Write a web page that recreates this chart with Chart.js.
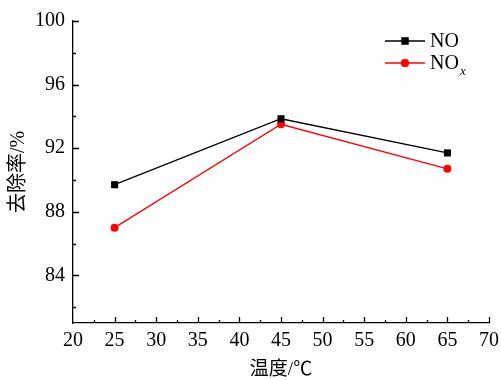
<!DOCTYPE html>
<html>
<head>
<meta charset="utf-8">
<script src="https://cdn.jsdelivr.net/npm/chart.js@4.4.1/dist/chart.umd.min.js"></script>
<style>
  html, body { margin: 0; padding: 0; background: #fff; }
  #wrap { width: 501px; height: 380px; }
</style>
</head>
<body>
<div id="wrap"><canvas id="chart"></canvas></div>
<script>
// data
const temps = [25, 45, 65];
const noRemoval = [89.7, 93.85, 91.7];
const noxRemoval = [87.0, 93.5, 90.7];
const yMajorTicks = [84, 88, 92, 96, 100];
const yMinorTicks = [82, 86, 90, 94, 98];
const xMinorTicks = [22.5, 27.5, 32.5, 37.5, 42.5, 47.5, 52.5, 57.5, 62.5, 67.5];

const serif = "'Liberation Serif', 'Times New Roman', serif";
const cjk = "'Liberation Serif', 'Noto Sans CJK SC', serif";

// inward tick marks (major + minor)
const innerTicks = {
  id: 'innerTicks',
  afterDraw(chart) {
    const c = chart.ctx;
    const xs = chart.scales.x, ys = chart.scales.y;
    const x0 = xs.getPixelForValue(20), y0 = ys.getPixelForValue(81);
    c.save();
    c.strokeStyle = '#000';
    c.lineWidth = 1.3;
    c.beginPath();
    for (let v = 25; v <= 70; v += 5) {
      const px = Math.round(xs.getPixelForValue(v)) + 0.5;
      c.moveTo(px, y0); c.lineTo(px, y0 - 6);
    }
    xMinorTicks.forEach(v => {
      const px = Math.round(xs.getPixelForValue(v)) + 0.5;
      c.moveTo(px, y0); c.lineTo(px, y0 - 3);
    });
    yMajorTicks.forEach(v => {
      const py = Math.round(ys.getPixelForValue(v)) + 0.5;
      c.moveTo(x0, py); c.lineTo(x0 + 6, py);
    });
    yMinorTicks.forEach(v => {
      const py = Math.round(ys.getPixelForValue(v)) + 0.5;
      c.moveTo(x0, py); c.lineTo(x0 + 3, py);
    });
    c.stroke();
    c.restore();
  }
};

// legend with subscript x
const legendBox = {
  id: 'legendBox',
  afterDraw(chart) {
    const c = chart.ctx;
    const items = [
      { color: '#000', style: 'rect', radius: 5, y: 41, text: 'NO', sub: '' },
      { color: '#ff0000', style: 'circle', radius: 4, y: 63, text: 'NO', sub: 'x' }
    ];
    c.save();
    items.forEach(it => {
      c.strokeStyle = it.color;
      c.lineWidth = 1.3;
      c.beginPath();
      c.moveTo(385, it.y); c.lineTo(425, it.y);
      c.stroke();
      c.fillStyle = it.color;
      Chart.helpers.drawPoint(c, { pointStyle: it.style, radius: it.radius, borderWidth: 0 }, 405, it.y);
      c.fill();
      c.fillStyle = '#000';
      c.font = '20px ' + serif;
      c.textBaseline = 'middle';
      c.fillText(it.text, 430, it.y + 1);
      if (it.sub) {
        const w = c.measureText(it.text).width;
        c.font = 'italic 13px ' + serif;
        c.fillText(it.sub, 430 + w + 1, it.y + 9);
      }
    });
    c.restore();
  }
};

new Chart(document.getElementById('chart'), {
  type: 'line',
  data: {
    datasets: [
      {
        label: 'NO',
        data: temps.map((t, i) => ({ x: t, y: noRemoval[i] })),
        borderColor: '#000',
        backgroundColor: '#000',
        borderWidth: 1.3,
        pointStyle: 'rect',
        pointRadius: 5,
        pointBorderWidth: 0
      },
      {
        label: 'NOx',
        data: temps.map((t, i) => ({ x: t, y: noxRemoval[i] })),
        borderColor: '#ff0000',
        backgroundColor: '#ff0000',
        borderWidth: 1.3,
        pointStyle: 'circle',
        pointRadius: 4,
        pointBorderWidth: 0
      }
    ]
  },
  options: {
    responsive: true,
    maintainAspectRatio: false,
    animation: false,
    layout: { padding: { left: 0, right: 12, top: 21, bottom: 0 } },
    plugins: { legend: { display: false }, tooltip: { enabled: false } },
    scales: {
      x: {
        type: 'linear',
        min: 20,
        max: 70,
        ticks: { stepSize: 5, padding: 6, color: '#000', font: { family: serif, size: 20 } },
        grid: { display: true, drawOnChartArea: false, drawTicks: false },
        border: { display: true, color: '#000', width: 1.3 },
        title: { display: true, text: '温度/℃', color: '#000', font: { family: cjk, size: 19, lineHeight: 1 }, padding: { top: 0, bottom: 0 } },
        afterFit(scale) { scale.height = 57; scale.paddingRight = 0; scale.paddingLeft = 0; }
      },
      y: {
        min: 81,
        max: 100,
        afterBuildTicks(scale) { scale.ticks = yMajorTicks.map(v => ({ value: v })); },
        ticks: { padding: 8, color: '#000', font: { family: serif, size: 20 } },
        grid: { display: true, drawOnChartArea: false, drawTicks: false },
        border: { display: true, color: '#000', width: 1.3 },
        title: { display: true, text: '去除率/%', color: '#000', font: { family: cjk, size: 20 }, padding: { top: 7, bottom: 0 } },
        afterFit(scale) { scale.width = 73; }
      }
    }
  },
  plugins: [innerTicks, legendBox]
});
</script>
</body>
</html>
